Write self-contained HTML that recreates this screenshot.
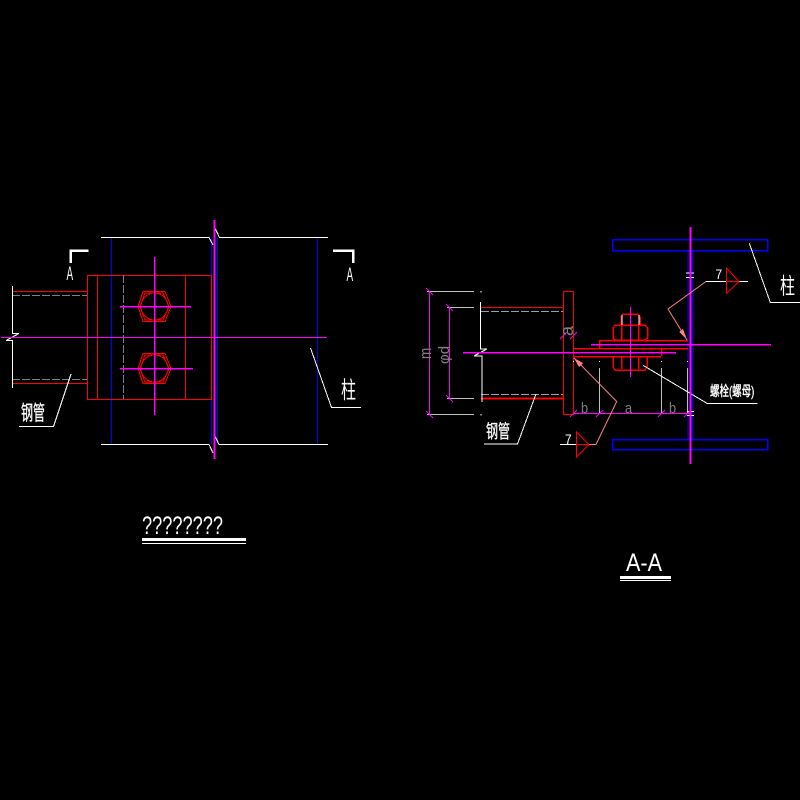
<!DOCTYPE html>
<html><head><meta charset="utf-8"><style>
html,body{margin:0;padding:0;background:#000}
svg{display:block}
text{font-family:"Liberation Sans","Noto Sans CJK SC",sans-serif}
</style></head><body>
<svg width="800" height="800" viewBox="0 0 800 800" xmlns="http://www.w3.org/2000/svg" shape-rendering="crispEdges" fill="none">
<rect width="800" height="800" fill="#000"/>
<!-- LEFT VIEW -->
<g stroke="#0000ff" stroke-width="1">
<path d="M111.5 238V444M211.5 238V444M217.5 238V444M317.5 238V444"/>
</g>
<g stroke="#ff0000" stroke-width="1">
<rect x="87.5" y="275.5" width="124" height="124"/>
<path d="M97.5 275V399M185.5 275V399M12 291.5H87M12 383.5H87"/>
<path d="M143 291.5H165L171 306.5L165 321.5H143L138 306.5Z"/>
<path d="M145 293H163L169 306.5L163 320H145L140 306.5Z"/>
<circle cx="154.5" cy="306.5" r="13.5"/>
<path d="M143 353.5H165L171 368.5L165 383.5H143L138 368.5Z"/>
<path d="M145 355H163L169 368.5L163 382H145L140 368.5Z"/>
<circle cx="154.5" cy="368.5" r="13.5"/>
</g>
<g stroke="#808080" stroke-width="1" stroke-dasharray="8 2">
<path d="M123.5 275V399M12 295.5H87M12 379.5H87"/>
</g>
<g stroke="#fff" stroke-width="1">
<path d="M101 237.5H209L213 245M215 228L219.5 237.5H328M101 444.5H209L213 453M215 436L219 444.5H328"/>
<path d="M12.5 286V333.5H19L6 340.5H12.5V388"/>
<path d="M71 374L53.5 426.5H19M310.5 348L331.5 407.5H361"/>
</g>
<path d="M88.5 250.5H70.5V263M333 250.5H353V263" stroke="#fff" stroke-width="2.5"/>
<g stroke="#ff00ff">
<path d="M1 337.5H327" stroke-width="1"/>
<path d="M214.5 220V459" stroke-width="2"/>
<path d="M154.5 257V415M120 306.5H191M120 368.5H193" stroke-width="1.5"/>
</g>
<!-- TITLE LEFT -->
<text x="142" y="534" fill="#fff" font-size="25" textLength="81" lengthAdjust="spacingAndGlyphs" style="font-weight:400">????????</text>
<rect x="142" y="538" width="104" height="3" fill="#fff"/>
<rect x="142" y="543" width="104" height="1" fill="#fff"/>
<text fill="#fff" font-size="16" transform="translate(66.5 280) scale(.62 1.2)">A</text>
<text fill="#fff" font-size="16" transform="translate(346.5 281) scale(.62 1.2)">A</text>
<text fill="#fff" font-size="12" stroke="#fff" stroke-width=".2" transform="translate(21 420) scale(1 1.7)">钢管</text>
<text fill="#fff" font-size="15" transform="translate(341 398) scale(1 1.55)">柱</text>
<!-- RIGHT VIEW -->
<rect x="612.5" y="239.5" width="155" height="11" stroke="#0000ff" stroke-width="1.5"/>
<rect x="612.5" y="439.5" width="155" height="10" stroke="#0000ff" stroke-width="1.5"/>
<path d="M688 250V439M693 250V439" stroke="#0000ff" stroke-width="1"/>
<g stroke="#c0c0c0" stroke-width="1">
<path d="M427 291.5H474M447 307.5H474M447 398.5H474M427 414.5H474"/>
<path d="M573.5 367V414M599.5 368V414M661.5 368V414M687.5 368V414"/>
</g>
<path d="M481 311.5H563M481 394.5H563" stroke="#a0a0a0" stroke-width="1" stroke-dasharray="8 2"/>
<path d="M563.5 321V336" stroke="#808080"/>
<g stroke="#ff0000" stroke-width="1">
<rect x="563.5" y="291.5" width="10" height="123"/>
<path d="M480 307.5H563"/>
<path d="M481 398.5H563" stroke-width="2"/>
</g>
<g stroke="#ff0000" stroke-width="1.5">
<path d="M573 348.5H688M599 340.5H688M573 356.5H661M599.5 340V348M661.5 348V356"/>
<path d="M623 314H638L640 317V325H621V317Z"/>
<path d="M615 325H645L647.5 328V338L645 340H615L613 338V328Z"/>
<path d="M621.5 325V340M638.5 325V340"/>
<path d="M613 356V367L615 370H645L647 367V356"/>
<path d="M621.5 356V369M638.5 356V369M615 370H645" />
</g>
<path d="M622 315V325M639 315V325" stroke="#fff"/>
<g stroke="#fff" stroke-width="1">
<path d="M480.5 302V349H487L474 356H482V402"/>
<path d="M481 291V292.5M481 414V415.5M573.5 361V362M599.5 361V362M661.5 361V362M687.5 361V362"/>
<path d="M686 273H694M686 277.5H694M687 411.5H694M687 415.5H694"/>
<path d="M536 394L517.5 444H484M749.3 243.3L770.3 302.5H800"/>
<path d="M643.3 365.5L707.3 403.5H757.7"/>
<path d="M706 281.5H748M560 444.5H576"/>
</g>
<g stroke="#ff00ff">
<path d="M429.5 291V414M449.5 307V398" stroke-width="1"/>
<path d="M463 352.5H676M591 344.5H771" stroke-width="1.5"/>
<path d="M573 413.5H690" stroke-width="1"/>
<path d="M690.5 227V464" stroke-width="2"/>
<path d="M630.5 307V377" stroke-width="1"/>
</g>
<g stroke="#ff00ff" stroke-width="1" shape-rendering="auto">
<path d="M426 288L433 295M426 411L433 418M446 304L453 311M446 395L453 402"/>
<path d="M570 417L577 410M596 417L603 410M658 417L665 410M684 417L691 410M560 339L567 332M570 339L577 332"/>
</g>
<g stroke="#ff8080" stroke-width="1" shape-rendering="auto">
<path d="M706 281.5L668 309L687 340"/>
<path d="M596 444.5L616.7 401.5L574 358M589 444.5H596"/>
</g>
<path d="M687 340L679 332L683 329Z M574 358L583 363L579 367Z" fill="#ff8080"/>
<g stroke="#ff0000" stroke-width="1" shape-rendering="auto">
<path d="M726.5 268V293.5L739 281.5ZM726.5 281.5H739"/>
<path d="M576.5 432V457L589 444.5ZM576.5 444.5H589"/>
</g>
<g fill="#fff" font-size="14">
<text transform="translate(715.5 279) scale(.85 1)">7</text>
<text transform="translate(565 444) scale(.85 1)">7</text>
</g>
<g fill="#808080" font-size="15">
<text transform="translate(581 413) scale(.85 1)">b</text>
<text transform="translate(625 413) scale(.85 1)">a</text>
<text transform="translate(669 413) scale(.85 1)">b</text>
<text transform="translate(573 336) rotate(-90) scale(1.2 1.2)">a</text>
<text transform="translate(431 359) rotate(-90) scale(.9 1.1)">m</text>
<text transform="translate(449 364) rotate(-90) scale(1 1)">φd</text>
</g>
<text fill="#fff" font-size="12" stroke="#fff" stroke-width=".2" transform="translate(486 438) scale(1 1.55)">钢管</text>
<text fill="#fff" font-size="15" transform="translate(780 294) scale(1 1.5)">柱</text>
<text fill="#fff" font-size="10" stroke="#fff" stroke-width=".3" transform="translate(710 396) scale(.95 1.4)">螺栓(螺母)</text>
<!-- TITLE RIGHT -->
<text x="626" y="571" fill="#fff" font-size="25" textLength="36" lengthAdjust="spacingAndGlyphs">A-A</text>
<rect x="620" y="576" width="51" height="3" fill="#fff"/>
<rect x="620" y="580" width="51" height="1" fill="#fff"/>
</svg>
</body></html>
